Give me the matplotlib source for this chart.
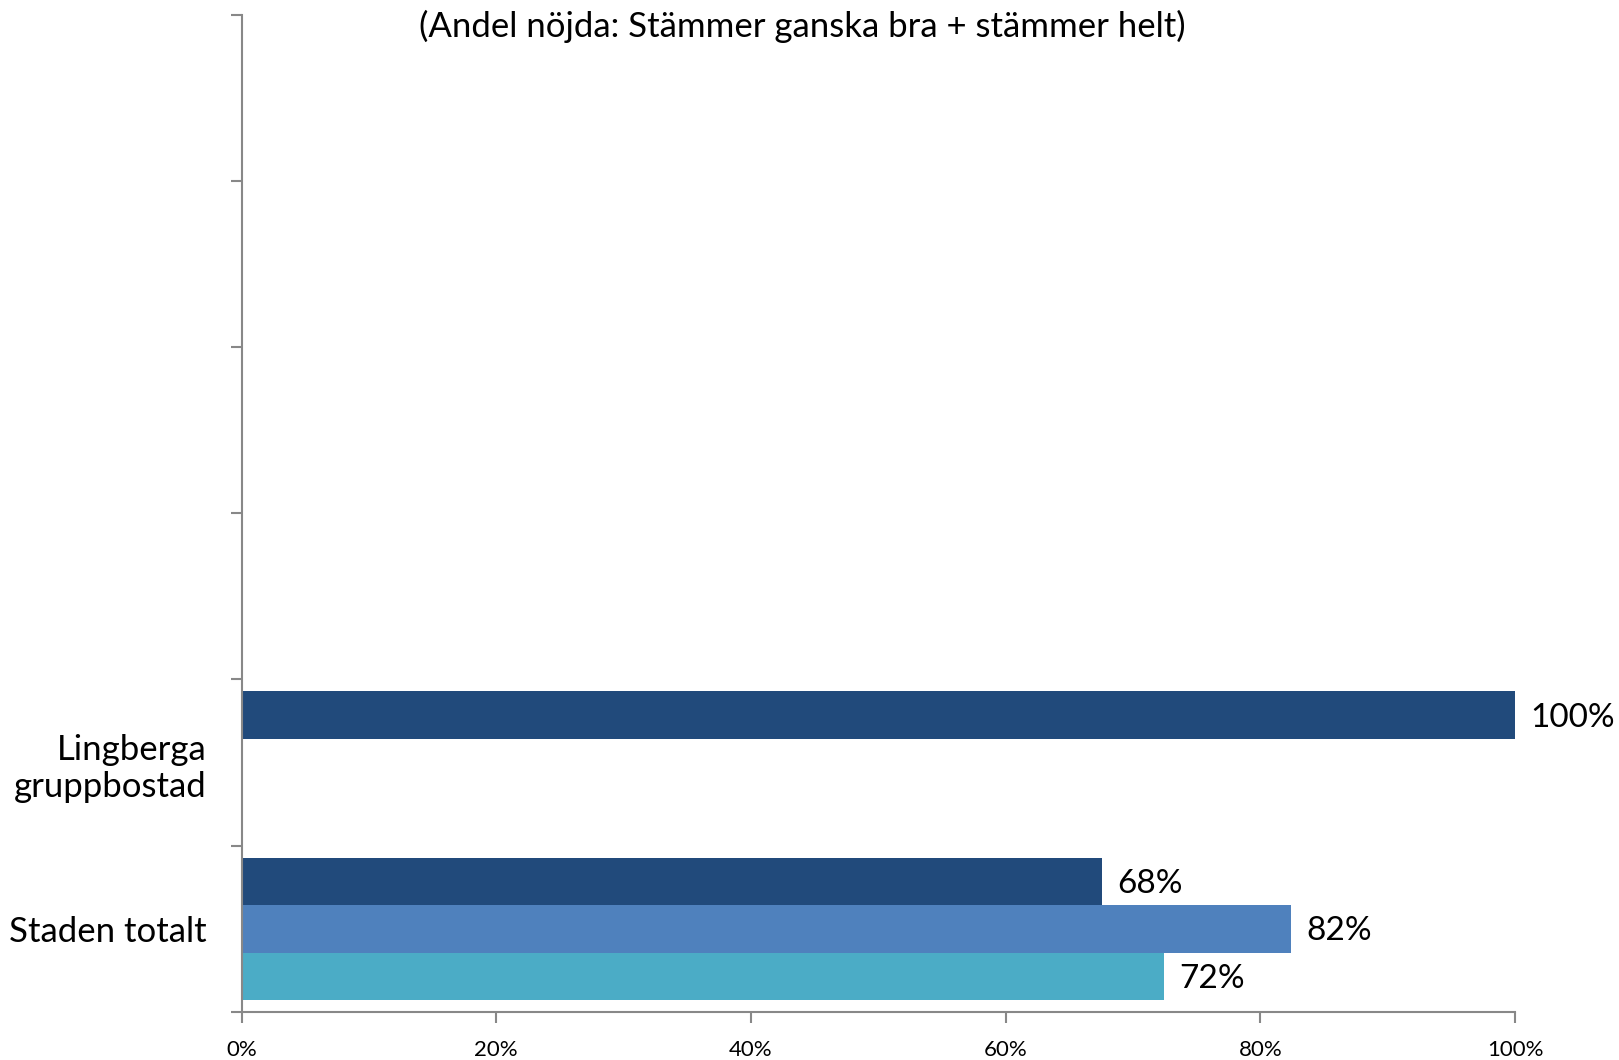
import numpy as np
import matplotlib
matplotlib.use('Agg')
import matplotlib.pyplot as plt

plt.rcParams['font.family'] = ['Lato', 'DejaVu Sans']

# data (bottom to top)
categories = ['Staden totalt', 'Lingberga\ngruppbostad', '', '', '', '']
serie1 = [0.676, 1.00, np.nan, np.nan, np.nan, np.nan]
serie2 = [0.824, np.nan, np.nan, np.nan, np.nan, np.nan]
serie3 = [0.724, np.nan, np.nan, np.nan, np.nan, np.nan]
colors = ['#214A7B', '#4F81BD', '#4BACC6']
xticks = [0, 0.2, 0.4, 0.6, 0.8, 1.0]
xticklabels = ['0%', '20%', '40%', '60%', '80%', '100%']
title = '(Andel nöjda: Stämmer ganska bra + stämmer helt)'

fig = plt.figure(figsize=(16.19, 10.60), dpi=100)
ax = fig.add_axes([0.1492, 0.0453, 0.9358 - 0.1492, 0.9863 - 0.0453])

y = np.arange(len(categories))
h = 0.2857
offsets = [h, 0, -h]
for serie, off, c in zip([serie1, serie2, serie3], offsets, colors):
    vals = np.array(serie, dtype=float)
    ax.barh(y + off, np.nan_to_num(vals), height=h, color=c, zorder=2)
    for yi, v in zip(y, vals):
        if not np.isnan(v):
            ax.text(v + 0.012, yi + off - 0.015, '%d%%' % round(v * 100), va='center', ha='left', fontsize=24)

ax.set_xlim(0, 1)
ax.set_ylim(-0.5, len(categories) - 0.5)

ax.set_xticks(xticks)
ax.set_xticklabels(xticklabels, fontsize=16)
ax.set_yticks(np.arange(len(categories) + 1) - 0.5)
ax.set_yticklabels([])
ax.set_yticks(y, minor=True)
ax.set_yticklabels(categories, minor=True, fontsize=25, ha='right', linespacing=1.22)
ax.tick_params(axis='y', which='minor', length=0, pad=25)
ax.tick_params(axis='y', which='major', length=8, width=1.5, color='#888888', direction='out')
ax.tick_params(axis='x', length=8, width=1.5, color='#888888', direction='out', pad=12)

for s in ['top', 'right']:
    ax.spines[s].set_visible(False)
for s in ['left', 'bottom']:
    ax.spines[s].set_color('#888888')
    ax.spines[s].set_linewidth(1.5)

fig.text(0.4954, 0.975, title, ha='center', va='center', fontsize=25)

plt.savefig('out.png', dpi=100)
